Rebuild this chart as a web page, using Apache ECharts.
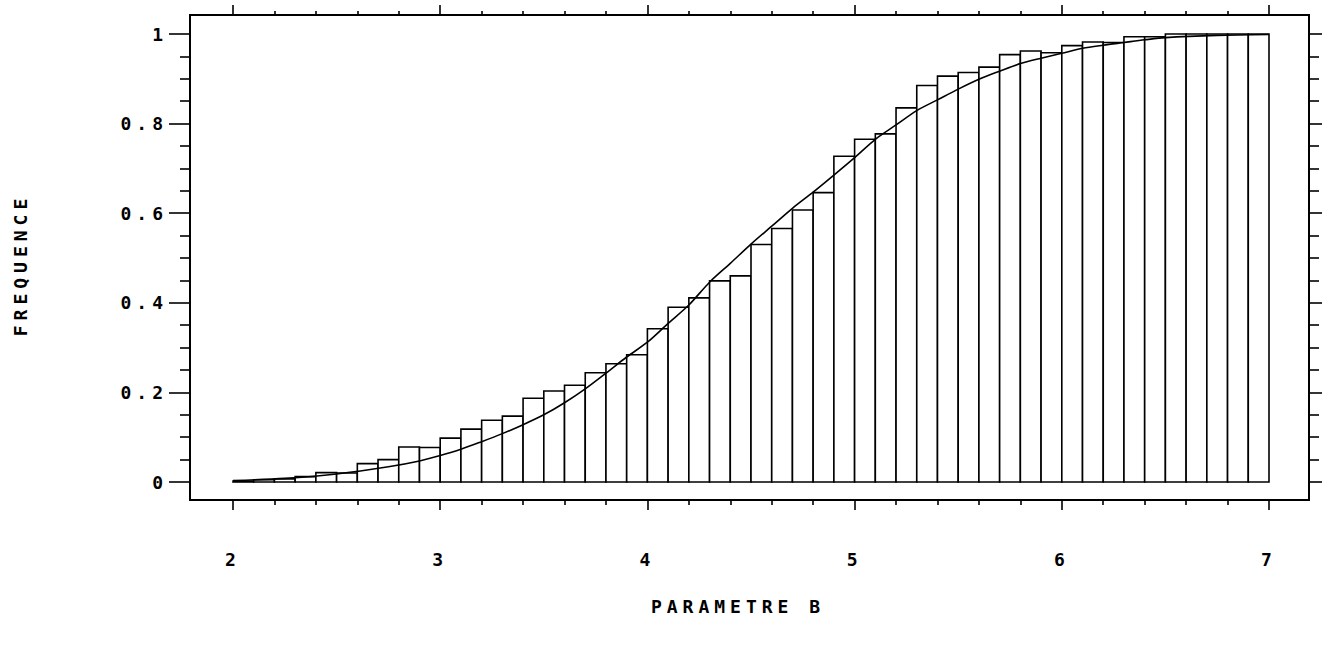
<!DOCTYPE html>
<html>
<head>
<meta charset="utf-8">
<script src="https://cdn.jsdelivr.net/npm/echarts@6/dist/echarts.min.js"></script>
<style>
html,body{margin:0;padding:0;background:#fff;}
#main{width:1330px;height:649px;}
#main text{letter-spacing:5px;}
</style>
</head>
<body>
<div id="main"></div>
<script>
// ---- data ----
const binStarts = [2.0,2.1,2.2,2.3,2.4,2.5,2.6,2.7,2.8,2.9,
                   3.0,3.1,3.2,3.3,3.4,3.5,3.6,3.7,3.8,3.9,
                   4.0,4.1,4.2,4.3,4.4,4.5,4.6,4.7,4.8,4.9,
                   5.0,5.1,5.2,5.3,5.4,5.5,5.6,5.7,5.8,5.9,
                   6.0,6.1,6.2,6.3,6.4,6.5,6.6,6.7,6.8,6.9];
const binWidth = 0.1;
const frequencies = [0.002,0.005,0.007,0.012,0.021,0.020,0.041,0.050,0.078,0.077,
                     0.098,0.118,0.138,0.147,0.187,0.203,0.216,0.244,0.264,0.284,
                     0.342,0.390,0.411,0.449,0.460,0.530,0.566,0.607,0.646,0.727,
                     0.765,0.777,0.835,0.885,0.906,0.914,0.926,0.954,0.962,0.958,
                     0.974,0.982,0.981,0.994,0.994,1.000,1.000,1.000,1.000,1.000];
const curveX = [2.0,2.25,2.5,2.75,2.9,3.0,3.1,3.2,3.3,3.4,3.5,3.6,3.7,3.8,3.9,
                4.0,4.1,4.2,4.3,4.4,4.5,4.6,4.7,4.8,4.9,5.0,5.1,5.2,5.3,5.4,
                5.5,5.6,5.7,5.8,5.9,6.0,6.1,6.2,6.3,6.4,6.5,6.75,7.0];
const curveY = [0.003,0.008,0.018,0.034,0.047,0.059,0.073,0.090,0.108,0.128,0.150,0.177,0.208,0.243,0.279,
                0.312,0.354,0.395,0.446,0.488,0.531,0.571,0.611,0.647,0.685,0.724,0.765,0.797,0.829,0.853,
                0.877,0.899,0.917,0.934,0.946,0.957,0.968,0.975,0.981,0.987,0.992,0.997,0.999];
const xTitle = 'PARAMETRE B';
const yTitle = 'FREQUENCE';

// ---- chart ----
const FONT = 'DejaVu Sans Mono';
const chart = echarts.init(document.getElementById('main'), null, {renderer: 'svg'});

const barData = binStarts.map((s, i) => [s, frequencies[i]]);
const lineData = curveX.map((x, i) => [x, curveY[i]]);

function renderBar(params, api) {
  const x0 = api.value(0);
  const v = api.value(1);
  const pTop = api.coord([x0, v]);
  const pBot = api.coord([x0 + binWidth, 0]);
  return {
    type: 'rect',
    shape: {x: pTop[0], y: pTop[1], width: pBot[0] - pTop[0], height: pBot[1] - pTop[1]},
    style: {fill: '#fff', stroke: '#000', lineWidth: 1.6}
  };
}

const tickStyle = {color: '#000', width: 1.6};
const labelStyle = {color: '#000', fontFamily: FONT, fontWeight: 'bold', fontSize: 18};
const hiddenLine = {show: false, onZero: false};

chart.setOption({
  animation: false,
  backgroundColor: '#fff',
  grid: {left: 233, right: 61, top: 34, bottom: 167, containLabel: false},
  xAxis: [
    {type: 'value', position: 'bottom', min: 2, max: 7, interval: 1, offset: 18,
     axisLine: hiddenLine,
     axisTick: {show: true, inside: false, length: 10, lineStyle: tickStyle},
     minorTick: {show: true, splitNumber: 5, length: 5, lineStyle: tickStyle},
     axisLabel: Object.assign({margin: 50}, labelStyle),
     splitLine: {show: false}, minorSplitLine: {show: false}},
    {type: 'value', position: 'top', min: 2, max: 7, interval: 1, offset: 19,
     axisLine: hiddenLine,
     axisTick: {show: true, inside: false, length: 10, lineStyle: tickStyle},
     minorTick: {show: true, splitNumber: 5, length: 4, lineStyle: tickStyle},
     axisLabel: {show: false},
     splitLine: {show: false}}
  ],
  yAxis: [
    {type: 'value', position: 'left', min: 0, max: 1, interval: 0.2, offset: 43,
     axisLine: hiddenLine,
     axisTick: {show: true, inside: false, length: 21, lineStyle: tickStyle},
     minorTick: {show: true, splitNumber: 4, length: 10, lineStyle: tickStyle},
     axisLabel: Object.assign({margin: 22}, labelStyle),
     splitLine: {show: false}},
    {type: 'value', position: 'right', min: 0, max: 1, interval: 0.2, offset: 40,
     axisLine: hiddenLine,
     axisTick: {show: true, inside: false, length: 13, lineStyle: tickStyle},
     minorTick: {show: true, splitNumber: 4, length: 10, lineStyle: tickStyle},
     axisLabel: {show: false},
     splitLine: {show: false}}
  ],
  graphic: [
    {type: 'rect', silent: true, z: 0,
     shape: {x: 190, y: 15, width: 1119, height: 485},
     style: {fill: null, stroke: '#000', lineWidth: 2}},
    {type: 'text', x: 20, y: 265, rotation: Math.PI / 2,
     style: {text: yTitle, fill: '#000', fontFamily: FONT, fontWeight: 'bold', fontSize: 18,
             textAlign: 'center', textVerticalAlign: 'middle', align: 'center', verticalAlign: 'middle'}},
    {type: 'text', x: 738, y: 606,
     style: {text: xTitle, fill: '#000', fontFamily: FONT, fontWeight: 'bold', fontSize: 18,
             textAlign: 'center', textVerticalAlign: 'middle', align: 'center', verticalAlign: 'middle'}}
  ],
  series: [
    {type: 'custom', name: 'freq', xAxisIndex: 0, yAxisIndex: 0,
     renderItem: renderBar, data: barData, z: 2, clip: false},
    {type: 'line', name: 'curve', xAxisIndex: 0, yAxisIndex: 0,
     data: lineData, smooth: 0.3, showSymbol: false, symbol: 'none',
     lineStyle: {color: '#000', width: 1.6}, z: 3}
  ]
});
</script>
</body>
</html>
